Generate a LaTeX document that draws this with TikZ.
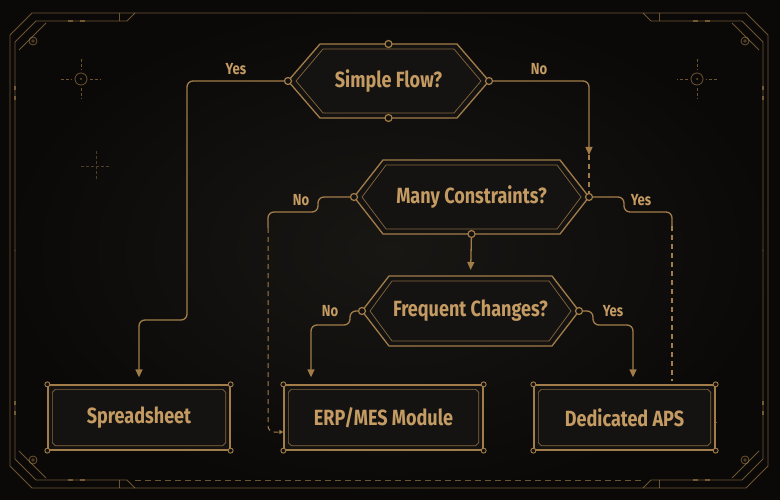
\documentclass[tikz,border=0pt]{standalone}
\usepackage{fontspec}
\usetikzlibrary{arrows.meta,calc}
\newfontfamily\lblfont[FakeStretch=0.82]{Fira Sans}
\definecolor{bg}{HTML}{121110}
\definecolor{bgin}{HTML}{191714}
\definecolor{bgout}{HTML}{0A0908}
\definecolor{gold}{HTML}{A27D4A}
\definecolor{goldtxt}{HTML}{C49B63}
\definecolor{nodefill}{HTML}{151311}
\tikzset{
  conn/.style={draw=gold, line width=1.3pt, rounded corners=6pt},
  dconn/.style={conn, dash pattern=on 5pt off 4pt},
  tip/.style={-{Triangle[width=7pt,length=8pt]}},
  smalltip/.style={-{Triangle[width=4pt,length=4pt]}},
  lbl/.style={text=goldtxt, font=\lblfont\bfseries\fontsize{16}{18}\selectfont, inner sep=0pt},
  ntext/.style={text=goldtxt, font=\lblfont\bfseries\fontsize{22}{24}\selectfont, inner sep=0pt},
  dot/.style={circle, draw=gold, fill=bg, line width=1.2pt, inner sep=0pt, minimum size=7pt},
  cdot/.style={circle, draw=gold, fill=bg, line width=0.9pt, inner sep=0pt, minimum size=5pt},
  frame/.style={draw=gold, line width=0.8pt, draw opacity=0.65},
  outl/.style={draw=gold, line width=1.3pt},
  inl/.style={draw=gold, line width=0.7pt, draw opacity=0.8},
}
% name cx cy hw hh inset text
\newcommand\hexdec[7]{%
  \filldraw[outl, fill=nodefill] (#2-#4,#3) -- (#2-#4+#6,#3-#5) -- (#2+#4-#6,#3-#5) -- (#2+#4,#3) -- (#2+#4-#6,#3+#5) -- (#2-#4+#6,#3+#5) -- cycle;
  \draw[inl] (#2-#4+8,#3) -- (#2-#4+#6+3,#3-#5+5) -- (#2+#4-#6-3,#3-#5+5) -- (#2+#4-8,#3) -- (#2+#4-#6-3,#3+#5-5) -- (#2-#4+#6+3,#3+#5-5) -- cycle;
  \node[ntext] (#1) at (#2,#3) {#7};
  \coordinate (#1w) at (#2-#4,#3);
  \coordinate (#1e) at (#2+#4,#3);
  \coordinate (#1n) at (#2,#3-#5);
  \coordinate (#1s) at (#2,#3+#5);
}
% name cx cy w h text
\newcommand\procbox[6]{%
  \node[ntext, minimum width=#4pt, minimum height=#5pt, fill=nodefill, outl] (#1) at (#2,#3) {#6};
  \draw[inl] ($(#1.south west)+(5,-8)$) -- ($(#1.south west)+(8,-5)$) -- ($(#1.south east)+(-8,-5)$) -- ($(#1.south east)+(-5,-8)$) -- ($(#1.north east)+(-5,8)$) -- ($(#1.north east)+(-8,5)$) -- ($(#1.north west)+(8,5)$) -- ($(#1.north west)+(5,8)$) -- cycle;
  \foreach \cc in {north west, north east, south west, south east} \node[cdot] at (#1.\cc) {};
}
\newcommand\framequarter{%
  \draw[frame] (15,251) -- (15,42) -- (36,21) -- (127,21) -- (135,13);
  \draw[frame] (119,13) -- (119,21);
  \draw[frame] (19,50) -- (46,23);
  \draw[gold, line width=2pt, opacity=0.6] (15,86) -- (15,90) (15,96) -- (15,100) (68,21) -- (73,21) (80,21) -- (85,21);
  \draw[frame] (33,41) circle (4pt) (31,41) -- (35,41) (33,39) -- (33,43);
  \draw[frame] (81,79) circle (6pt);
  \fill[gold, opacity=0.7] (81,79) circle (1pt);
  \draw[frame, dash pattern=on 3pt off 2pt] (61,79) -- (72,79) (90,79) -- (101,79) (81,59) -- (81,70) (81,88) -- (81,99);
}
\begin{document}
\begin{tikzpicture}[x=1pt,y=-1pt]
\useasboundingbox (0,0) rectangle (780,500);
\shade[inner color=bgin, outer color=bgout] (0,0) rectangle (780,500);
% frame
\draw[frame] (32,13) -- (746,13) -- (768,35) -- (768,466) -- (746,488) -- (32,488) -- (10,466) -- (10,35) -- cycle;
\framequarter
\begin{scope}[shift={(778,0)}, xscale=-1]\framequarter\end{scope}
\begin{scope}[shift={(0,501)}, yscale=-1]\framequarter\end{scope}
\begin{scope}[shift={(778,501)}, xscale=-1, yscale=-1]\framequarter\end{scope}
\draw[frame, dash pattern=on 6pt off 4pt] (135,480) -- (643,480);
\draw[gold, line width=0.6pt, opacity=0.45, dash pattern=on 3pt off 2pt] (81,166) -- (111,166) (96,151) -- (96,181);

% nodes
\hexdec{d1}{388.5}{81}{100.5}{37}{32}{Simple Flow?}
\hexdec{d2}{471.5}{197}{117.5}{37}{29}{Many Constraints?}
\hexdec{d3}{470.5}{311}{108.5}{35}{27}{Frequent Changes?}
\procbox{sp}{139}{417.5}{182}{65}{Spreadsheet}
\procbox{erp}{383.5}{417.5}{199}{65}{ERP/MES Module}
\procbox{aps}{624.5}{417.5}{181}{65}{Dedicated APS}

% connectors
\coordinate (b1) at (187,320);
\draw[conn,tip,shorten >=7pt] (d1w) -| (b1) -| (sp.north);
\coordinate (t1) at (589,155);
\draw[conn,tip] (d1e) -| (t1);
\draw[dconn] (t1) -- (d2e);

\coordinate (y2a) at (624,197);
\coordinate (y2b) at (624,212);
\coordinate (y2c) at (672,212);
\coordinate (y2d) at (672,226);
\draw[conn] (d2e) -- (y2a) -- (y2b) -- (y2c) -- (y2d);
\draw[dconn, shorten >=3pt] (y2d) -- (y2d |- aps.north);

\coordinate (n2a) at (318,197);
\coordinate (n2b) at (318,212);
\coordinate (n2c) at (268,212);
\coordinate (n2d) at (268,228);
\coordinate (n2e) at (268,432);
\draw[conn] (d2w) -- (n2a) -- (n2b) -- (n2c) -- (n2d);
\draw[dconn, smalltip, line width=1pt] (n2d) -- (n2e) -- ($(erp.west)+(0,14.5)$);

\draw[conn,tip,shorten >=6pt] (d2s) -- (d3n);

\coordinate (n3a) at (350,311);
\coordinate (n3b) at (350,325);
\coordinate (n3c) at (311,325);
\draw[conn,tip,shorten >=7pt] (d3w) -- (n3a) -- (n3b) -- (n3c) -- (n3c |- erp.north);

\coordinate (y3a) at (593,311);
\coordinate (y3b) at (593,325);
\coordinate (y3c) at (633,325);
\draw[conn,tip,shorten >=7pt] (d3e) -- (y3a) -- (y3b) -- (y3c) -- (y3c |- aps.north);

\foreach \c in {d1w,d1e,d1n,d1s,d2w,d2e,d2s,d3w,d3e} \node[dot] at (\c) {};

% labels
\node[lbl] (l1) at (236,69) {Yes};
\node[lbl] (l2) at (539,69) {No};
\node[lbl] (l3) at (301,200) {No};
\node[lbl] (l4) at (641,200) {Yes};
\node[lbl] (l5) at (330,311) {No};
\node[lbl] (l6) at (613,311) {Yes};
\end{tikzpicture}
\end{document}
